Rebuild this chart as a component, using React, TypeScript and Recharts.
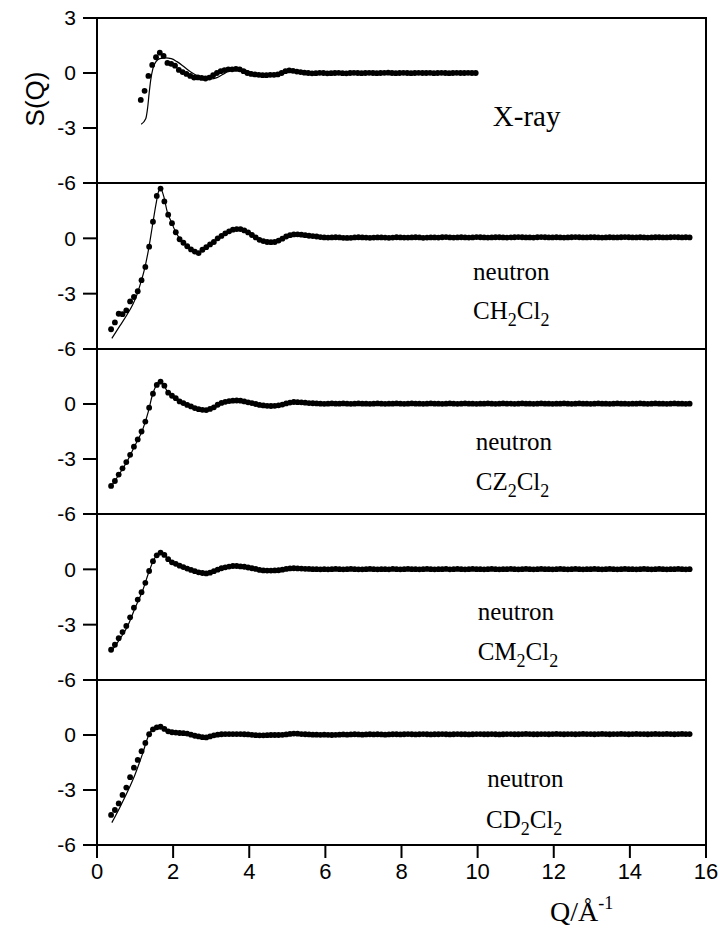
import React from 'react';
import { ComposedChart, Line, XAxis, YAxis, ReferenceArea, ReferenceDot } from 'recharts';

// ---------- Data ----------
const X_TICKS = [0, 2, 4, 6, 8, 10, 12, 14, 16];
const Y_TICKS = [3, 0, -3, -6];

const Q_XRAY = [1.15,1.25,1.35,1.45,1.55,1.65,1.75,1.85,1.95,2.05,2.15,2.25,2.35,2.45,2.55,2.65,2.75,2.85,2.95,3.05,3.15,3.25,3.35,3.45,3.55,3.65,3.75,3.85,3.95,4.05,4.15,4.25,4.35,4.45,4.55,4.65,4.75,4.85,4.95,5.05,5.15,5.25,5.35,5.45,5.55,5.65,5.75,5.85,5.95,6.05,6.15,6.25,6.35,6.45,6.55,6.65,6.75,6.85,6.95,7.05,7.15,7.25,7.35,7.45,7.55,7.65,7.75,7.85,7.95,8.05,8.15,8.25,8.35,8.45,8.55,8.65,8.75,8.85,8.95,9.05,9.15,9.25,9.35,9.45,9.55,9.65,9.75,9.85,9.95];
const S_XRAY = [
  -1.47,-0.97,-0.16,0.44,0.86,1.11,0.93,0.55,0.5,0.4,
  0.17,0.05,-0.05,-0.16,-0.25,-0.24,-0.27,-0.3,-0.25,-0.12,
  0.0,0.1,0.16,0.2,0.2,0.22,0.2,0.1,0.0,-0.05,
  -0.08,-0.1,-0.12,-0.12,-0.1,-0.1,-0.08,0.0,0.1,0.14,
  0.12,0.08,0.05,0.02,0.0,-0.02,-0.01,0.01,0.0,-0.02,
  -0.01,0.0,0.01,-0.01,-0.02,0.0,0.01,0.0,-0.01,0.0,
  0.01,0.0,-0.01,0.0,0.01,0.02,0.0,-0.01,0.0,0.01,
  0.0,-0.01,0.0,0.01,0.0,0.0,0.01,-0.01,0.0,0.01,
  0.0,-0.01,0.0,0.01,0.0,0.0,0.01,0.0,0.0,
];
const FIT_XRAY_Q = [1.16,1.28,1.33,1.37,1.41,1.47,1.55,1.65,1.8,1.95,2.1,2.25,2.4,2.55,2.7,2.85,3.0,3.15,3.3,3.45,3.6,3.8,4.0,4.2,4.5,4.8,5.0,5.2,5.5,6.0,8.0,10.0];
const FIT_XRAY_S = [-2.8,-2.5,-1.9,-1.1,-0.4,0.25,0.62,0.78,0.82,0.78,0.62,0.4,0.15,-0.05,-0.2,-0.3,-0.32,-0.25,-0.08,0.08,0.17,0.2,0.08,-0.05,-0.1,-0.05,0.08,0.1,0.03,0.0,0.0,0.0];

const Q_NEUTRON = [0.37,0.47,0.57,0.67,0.77,0.87,0.97,1.07,1.17,1.27,1.37,1.47,1.57,1.67,1.77,1.87,1.97,2.07,2.17,2.27,2.37,2.47,2.57,2.67,2.77,2.87,2.97,3.07,3.17,3.27,3.37,3.47,3.57,3.67,3.77,3.87,3.97,4.07,4.17,4.27,4.37,4.47,4.57,4.67,4.77,4.87,4.97,5.07,5.17,5.27,5.37,5.47,5.57,5.67,5.77,5.87,5.97,6.07,6.17,6.27,6.37,6.47,6.57,6.67,6.77,6.87,6.97,7.07,7.17,7.27,7.37,7.47,7.57,7.67,7.77,7.87,7.97,8.07,8.17,8.27,8.37,8.47,8.57,8.67,8.77,8.87,8.97,9.07,9.17,9.27,9.37,9.47,9.57,9.67,9.77,9.87,9.97,10.07,10.17,10.27,10.37,10.47,10.57,10.67,10.77,10.87,10.97,11.07,11.17,11.27,11.37,11.47,11.57,11.67,11.77,11.87,11.97,12.07,12.17,12.27,12.37,12.47,12.57,12.67,12.77,12.87,12.97,13.07,13.17,13.27,13.37,13.47,13.57,13.67,13.77,13.87,13.97,14.07,14.17,14.27,14.37,14.47,14.57,14.67,14.77,14.87,14.97,15.07,15.17,15.27,15.37,15.47,15.57];

const S_CH2 = [
  -4.93,-4.56,-4.09,-4.11,-3.91,-3.42,-3.18,-2.87,-2.27,-1.55,
  -0.45,0.9,2.3,2.7,2.0,1.28,0.82,0.33,-0.05,-0.24,
  -0.43,-0.6,-0.72,-0.8,-0.62,-0.48,-0.33,-0.2,0.0,0.13,
  0.27,0.38,0.47,0.5,0.5,0.43,0.32,0.18,0.05,-0.08,
  -0.15,-0.2,-0.21,-0.2,-0.12,-0.02,0.1,0.17,0.21,0.22,
  0.2,0.17,0.14,0.12,0.1,0.07,0.05,0.04,0.05,0.06,
  0.05,0.03,0.02,0.03,0.05,0.06,0.05,0.04,0.03,0.04,
  0.05,0.05,0.04,0.03,0.04,0.06,0.05,0.04,0.04,0.05,
  0.06,0.05,0.03,0.04,0.05,0.05,0.04,0.06,0.07,0.05,
  0.04,0.05,0.06,0.05,0.04,0.05,0.07,0.06,0.05,0.04,
  0.05,0.06,0.06,0.05,0.04,0.05,0.06,0.07,0.06,0.05,
  0.05,0.04,0.06,0.07,0.06,0.05,0.05,0.06,0.05,0.04,
  0.05,0.06,0.07,0.06,0.05,0.05,0.06,0.06,0.05,0.04,
  0.05,0.06,0.05,0.05,0.06,0.07,0.06,0.05,0.05,0.06,
  0.05,0.04,0.05,0.06,0.06,0.05,0.05,0.06,0.07,0.06,
  0.05,0.06,0.05,
];
const FIT_CH2_Q = [0.39,0.6,0.8,0.95,1.05,1.15,1.25,1.35,1.45,1.55,1.62,1.68,1.75,1.85,1.95,2.05,2.15,2.3,2.45,2.6,2.68,2.8,3.0,3.2,3.4,3.6,3.8,4.0,4.2,4.4,4.6,4.8,5.0,5.2,5.5,6.0,8.0,12.0,15.57];
const FIT_CH2_S = [-5.42,-4.75,-4.1,-3.55,-3.05,-2.4,-1.65,-0.65,0.6,1.85,2.55,2.65,2.3,1.4,0.9,0.42,0.05,-0.3,-0.57,-0.75,-0.8,-0.6,-0.3,0.0,0.3,0.48,0.5,0.35,0.05,-0.15,-0.21,-0.12,0.1,0.21,0.16,0.05,0.05,0.05,0.05];

const S_CZ2 = [
  -4.47,-4.2,-3.85,-3.51,-3.17,-2.77,-2.33,-1.93,-1.5,-0.96,
  -0.2,0.56,1.04,1.22,1.0,0.62,0.45,0.32,0.14,0.05,
  -0.05,-0.13,-0.22,-0.28,-0.32,-0.33,-0.27,-0.18,-0.04,0.06,
  0.12,0.16,0.18,0.19,0.18,0.14,0.09,0.05,0.0,-0.05,
  -0.08,-0.1,-0.11,-0.1,-0.07,-0.03,0.03,0.08,0.11,0.1,
  0.09,0.07,0.05,0.04,0.03,0.02,0.01,0.02,0.03,0.02,
  0.02,0.03,0.02,0.01,0.02,0.03,0.02,0.02,0.01,0.02,
  0.03,0.02,0.01,0.02,0.02,0.03,0.02,0.01,0.02,0.03,
  0.02,0.02,0.01,0.02,0.03,0.02,0.02,0.01,0.02,0.03,
  0.02,0.01,0.02,0.03,0.02,0.02,0.01,0.02,0.02,0.03,
  0.02,0.01,0.02,0.03,0.02,0.02,0.01,0.02,0.03,0.02,
  0.02,0.01,0.02,0.03,0.02,0.02,0.01,0.02,0.02,0.03,
  0.02,0.01,0.02,0.03,0.02,0.02,0.01,0.02,0.03,0.02,
  0.02,0.01,0.02,0.03,0.02,0.02,0.01,0.02,0.02,0.03,
  0.02,0.01,0.02,0.03,0.02,0.02,0.01,0.02,0.03,0.02,
  0.02,0.01,0.02,
];
const FIT_CZ2_Q = [0.37,0.6,0.8,1.0,1.2,1.35,1.45,1.55,1.65,1.75,1.85,1.95,2.1,2.3,2.5,2.7,2.87,3.0,3.2,3.4,3.7,4.0,4.3,4.6,4.9,5.2,5.6,6.0,15.57];
const FIT_CZ2_S = [-4.5,-3.78,-3.1,-2.25,-1.4,-0.4,0.45,1.0,1.25,1.05,0.68,0.47,0.28,0.02,-0.15,-0.29,-0.33,-0.26,0.0,0.13,0.19,0.07,-0.06,-0.11,-0.02,0.11,0.05,0.02,0.02];

const S_CM2 = [
  -4.36,-4.09,-3.73,-3.4,-3.07,-2.6,-2.08,-1.64,-1.24,-0.73,
  -0.09,0.44,0.76,0.91,0.78,0.55,0.38,0.3,0.2,0.12,
  0.04,-0.03,-0.1,-0.16,-0.2,-0.22,-0.18,-0.1,-0.02,0.06,
  0.11,0.15,0.18,0.18,0.16,0.14,0.1,0.06,0.02,-0.03,
  -0.06,-0.07,-0.07,-0.06,-0.05,-0.02,0.02,0.05,0.06,0.05,
  0.04,0.03,0.02,0.01,0.01,0.0,0.01,0.0,0.01,0.02,
  0.01,0.0,0.01,0.02,0.01,0.0,0.0,0.01,0.02,0.01,
  0.0,0.01,0.01,0.0,0.02,0.01,0.0,0.01,0.02,0.01,
  0.01,0.0,0.01,0.02,0.01,0.0,0.01,0.01,0.02,0.0,
  0.01,0.02,0.01,0.0,0.01,0.02,0.01,0.01,0.0,0.01,
  0.02,0.01,0.0,0.01,0.01,0.02,0.01,0.0,0.01,0.02,
  0.01,0.0,0.01,0.02,0.01,0.01,0.0,0.01,0.02,0.01,
  0.0,0.01,0.02,0.01,0.0,0.01,0.01,0.02,0.01,0.0,
  0.01,0.02,0.01,0.0,0.01,0.02,0.01,0.01,0.0,0.01,
  0.02,0.01,0.0,0.01,0.02,0.01,0.0,0.01,0.01,0.02,
  0.01,0.0,0.01,
];
const FIT_CM2_Q = [0.37,0.6,0.8,1.0,1.2,1.37,1.5,1.6,1.67,1.77,1.9,2.1,2.4,2.65,2.88,3.1,3.35,3.65,4.0,4.4,4.7,5.1,5.5,6.0,15.57];
const FIT_CM2_S = [-4.45,-3.78,-3.1,-2.1,-1.15,-0.1,0.55,0.85,0.92,0.78,0.5,0.28,0.02,-0.16,-0.22,-0.07,0.1,0.18,0.1,-0.06,-0.06,0.05,0.03,0.01,0.01];

const S_CD2 = [
  -4.36,-4.09,-3.73,-3.27,-2.87,-2.3,-1.78,-1.36,-0.88,-0.43,
  0.04,0.31,0.42,0.45,0.33,0.2,0.15,0.13,0.11,0.1,
  0.08,0.02,-0.04,-0.08,-0.12,-0.13,-0.08,-0.02,0.02,0.04,
  0.05,0.05,0.05,0.05,0.05,0.04,0.03,0.01,-0.01,-0.02,
  -0.02,-0.01,0.0,0.0,0.0,0.01,0.03,0.06,0.08,0.07,
  0.05,0.04,0.03,0.02,0.02,0.01,0.02,0.01,0.0,0.01,
  0.02,0.03,0.02,0.03,0.04,0.03,0.02,0.03,0.04,0.03,
  0.04,0.03,0.02,0.03,0.04,0.04,0.03,0.04,0.05,0.04,
  0.03,0.04,0.05,0.04,0.03,0.04,0.04,0.05,0.04,0.03,
  0.04,0.05,0.04,0.04,0.03,0.04,0.05,0.05,0.04,0.04,
  0.05,0.04,0.03,0.04,0.05,0.05,0.04,0.04,0.05,0.06,
  0.05,0.04,0.04,0.05,0.05,0.04,0.05,0.06,0.05,0.04,
  0.05,0.05,0.04,0.05,0.06,0.05,0.05,0.04,0.05,0.06,
  0.05,0.04,0.05,0.05,0.06,0.05,0.04,0.05,0.06,0.05,
  0.05,0.04,0.05,0.06,0.05,0.05,0.06,0.05,0.04,0.05,
  0.06,0.05,0.05,
];
const FIT_CD2_Q = [0.39,0.6,0.8,1.0,1.2,1.35,1.45,1.55,1.67,1.8,1.95,2.2,2.5,2.85,3.1,3.5,4.0,4.5,5.15,5.6,6.0,15.57];
const FIT_CD2_S = [-4.78,-3.95,-3.1,-2.15,-1.0,-0.05,0.3,0.43,0.46,0.32,0.17,0.11,0.0,-0.13,0.0,0.05,0.03,-0.01,0.08,0.03,0.03,0.04];

// ---------- Layout ----------
const W = 725;
const PLOT_LEFT = 97;
const PLOT_RIGHT = 706;
const PANEL_TOPS = [18, 183, 349, 514, 680];
const PANEL_BOTTOM = 845;
const PAD = 12;
const X_AXIS_H = 88;

const SERIF = '"Liberation Serif", "Times New Roman", Times, serif';
const SANS = '"Liberation Sans", Arial, Helvetica, sans-serif';

const zip = (qs: number[], ss: number[]) => qs.map((q, i) => ({ q, s: ss[i] }));

type LabelSpec = { q: number; s: number; lines: React.ReactNode; size: number };

const formula = (mid: string) => (
  <>
    <tspan>C{mid}</tspan>
    <tspan fontSize={18} dy={7}>2</tspan>
    <tspan dy={-7}>Cl</tspan>
    <tspan fontSize={18} dy={7}>2</tspan>
  </>
);

type PanelProps = {
  idx: number;
  dots: { q: number; s: number }[];
  fit: { q: number; s: number }[];
  labels: LabelSpec[];
};

function Panel({ idx, dots, fit, labels }: PanelProps) {
  const top = PANEL_TOPS[idx];
  const bottom = idx < 4 ? PANEL_TOPS[idx + 1] : PANEL_BOTTOM;
  const h = bottom - top;
  const showX = idx === 4;
  const chartTop = top - PAD;
  const chartH = h + PAD + (showX ? X_AXIS_H : PAD);

  const xTitle = () => (
    <text x={550} y={921 - chartTop} fontFamily={SERIF} fontSize={28} fill="#000">
      <tspan>Q/Å</tspan>
      <tspan fontSize={18} dy={-12}>-1</tspan>
    </text>
  );
  const yTitle = () => (
    <text
      transform={`translate(${44},${99 - chartTop}) rotate(-90)`}
      textAnchor="middle"
      fontFamily={SANS}
      fontSize={26}
      fill="#000"
    >
      S(Q)
    </text>
  );

  return (
    <div style={{ position: 'absolute', left: 0, top: chartTop, width: W, height: chartH }}>
      <ComposedChart
        width={W}
        height={chartH}
        margin={{ top: PAD, right: W - PLOT_RIGHT, left: 0, bottom: showX ? 0 : PAD }}
      >
        <XAxis
          xAxisId={0}
          dataKey="q"
          type="number"
          domain={[0, 16]}
          ticks={X_TICKS}
          interval={0}
          hide={!showX}
          height={showX ? X_AXIS_H : 0}
          tickSize={13}
          tickMargin={5}
          axisLine={{ stroke: '#000', strokeWidth: 2 }}
          tickLine={{ stroke: '#000', strokeWidth: 2 }}
          tick={{ fill: '#000', fontSize: 22, fontFamily: SANS }}
          label={showX ? xTitle : undefined}
        />
        <YAxis
          yAxisId={0}
          type="number"
          domain={[-6, 3]}
          ticks={Y_TICKS}
          interval={0}
          width={PLOT_LEFT}
          tickSize={14}
          tickMargin={7}
          tickFormatter={(v: number) => (idx > 0 && v === 3 ? '' : String(v))}
          axisLine={{ stroke: '#000', strokeWidth: 2 }}
          tickLine={{ stroke: '#000', strokeWidth: 2 }}
          tick={{ fill: '#000', fontSize: 21, fontFamily: SANS }}
          label={idx === 0 ? yTitle : undefined}
        />
        <ReferenceArea
          x1={0}
          x2={16}
          y1={-6}
          y2={3}
          fill="none"
          fillOpacity={0}
          stroke="#000"
          strokeWidth={2}
          ifOverflow="visible"
        />
        <Line
          data={fit}
          dataKey="s"
          type="monotone"
          stroke="#000"
          strokeWidth={1.2}
          dot={false}
          activeDot={false}
          isAnimationActive={false}
        />
        <Line
          data={dots}
          dataKey="s"
          type="linear"
          stroke="none"
          strokeWidth={0}
          dot={{ r: 2.9, fill: '#000', stroke: 'none', strokeWidth: 0 }}
          activeDot={false}
          isAnimationActive={false}
        />
        {labels.map((l, i) => (
          <ReferenceDot
            key={i}
            x={l.q}
            y={l.s}
            r={0}
            ifOverflow="visible"
            shape={(p: any) => (
              <text x={p.cx} y={p.cy} fontFamily={SERIF} fontSize={l.size} fill="#000">
                {l.lines}
              </text>
            )}
          />
        ))}
      </ComposedChart>
    </div>
  );
}

export default function App() {
  return (
    <div style={{ position: 'absolute', left: 0, top: 0, width: W, height: 933, background: '#fff' }}>
      <Panel
        idx={0}
        dots={zip(Q_XRAY, S_XRAY)}
        fit={zip(FIT_XRAY_Q, FIT_XRAY_S)}
        labels={[{ q: 10.4, s: -2.89, size: 29, lines: 'X-ray' }]}
      />
      <Panel
        idx={1}
        dots={zip(Q_NEUTRON, S_CH2)}
        fit={zip(FIT_CH2_Q, FIT_CH2_S)}
        labels={[
          { q: 9.88, s: -2.24, size: 25, lines: 'neutron' },
          { q: 9.88, s: -4.36, size: 25, lines: formula('H') },
        ]}
      />
      <Panel
        idx={2}
        dots={zip(Q_NEUTRON, S_CZ2)}
        fit={zip(FIT_CZ2_Q, FIT_CZ2_S)}
        labels={[
          { q: 9.95, s: -2.51, size: 25, lines: 'neutron' },
          { q: 9.95, s: -4.69, size: 25, lines: formula('Z') },
        ]}
      />
      <Panel
        idx={3}
        dots={zip(Q_NEUTRON, S_CM2)}
        fit={zip(FIT_CM2_Q, FIT_CM2_S)}
        labels={[
          { q: 10.0, s: -2.73, size: 25, lines: 'neutron' },
          { q: 10.0, s: -4.91, size: 25, lines: formula('M') },
        ]}
      />
      <Panel
        idx={4}
        dots={zip(Q_NEUTRON, S_CD2)}
        fit={zip(FIT_CD2_Q, FIT_CD2_S)}
        labels={[
          { q: 10.25, s: -2.84, size: 25, lines: 'neutron' },
          { q: 10.22, s: -5.07, size: 25, lines: formula('D') },
        ]}
      />
    </div>
  );
}
